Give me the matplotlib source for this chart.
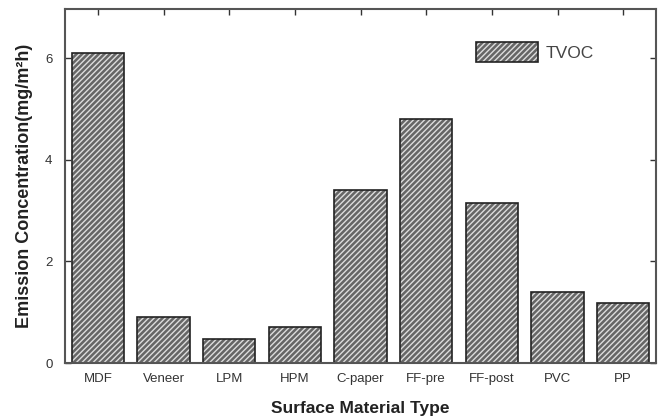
import matplotlib
matplotlib.use("Agg")
from matplotlib import pyplot as plt
from matplotlib.patches import Patch
import numpy as np

categories = ["MDF", "Veneer", "LPM", "HPM", "C-paper", "FF-pre", "FF-post", "PVC", "PP"]
tvoc = [6.11, 0.91, 0.47, 0.70, 3.41, 4.80, 3.15, 1.40, 1.18]
y_ticks = [0, 2, 4, 6]

plt.rcParams['font.family'] = ['Liberation Sans', 'DejaVu Sans']
plt.rcParams['hatch.linewidth'] = 1.0

fig = plt.figure(figsize=(6.67, 4.2), dpi=100)
ax = fig.add_axes([0.0975, 0.1357, 0.886, 0.843])

x = np.arange(len(categories))
# hatched fill: dark face with light diagonal lines, then black outline on top
ax.bar(x, tvoc, width=0.8, color='#666666', edgecolor='#dddddd', hatch='//////', linewidth=0)
ax.bar(x, tvoc, width=0.8, fill=False, edgecolor='#222222', linewidth=1.2)

ax.set_xlim(-0.5, len(categories) - 0.5)
ax.set_ylim(0, 6.97)
ax.set_xticks(x)
ax.set_xticklabels(categories, fontsize=9.5, color='#333333')
ax.set_yticks(y_ticks)
ax.set_yticklabels([str(t) for t in y_ticks], fontsize=9.5, color='#333333')
ax.tick_params(direction='in', top=True, right=True, length=4, width=1, color='#333333')
ax.tick_params(axis='x', bottom=False, pad=7)
ax.tick_params(axis='y', pad=9)

for s in ax.spines.values():
    s.set_linewidth(1.5)
    s.set_color('#555555')

ax.set_xlabel("Surface Material Type", fontsize=12.5, fontweight='bold', labelpad=12, color='#222222')
ax.set_ylabel("Emission Concentration(mg/m²h)", fontsize=13, fontweight='bold', labelpad=9, color='#222222')

# legend handle built from two patches so it matches the bars
h_fill = Patch(facecolor='#666666', edgecolor='#dddddd', hatch='//////', linewidth=0)
h_edge = Patch(fill=False, edgecolor='#222222', linewidth=1.2)
ax.legend([(h_fill, h_edge)], ["TVOC"], loc='center left', bbox_to_anchor=(0.695, 0.879), frameon=False,
          handlelength=3.6, handleheight=1.4, fontsize=12.5, handletextpad=0.4, labelcolor='#444444',
          borderpad=0, borderaxespad=0)

fig.savefig("out.png", dpi=100)
